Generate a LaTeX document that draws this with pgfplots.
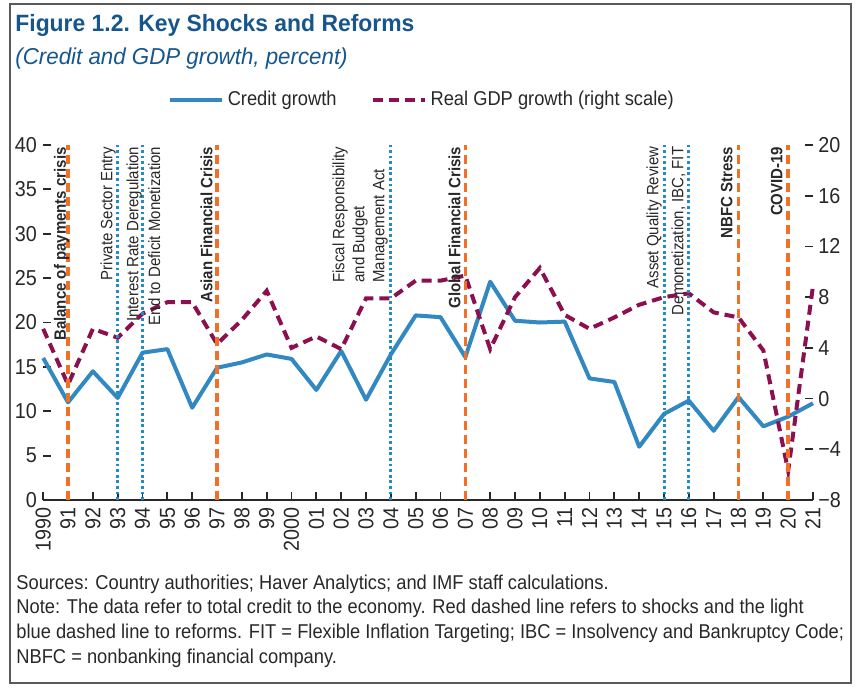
\documentclass[border=0pt]{standalone}
\usepackage{fontspec}
\setmainfont{Liberation Sans}[FakeStretch=0.915]
\newfontfamily\titlefamily{Liberation Sans}[FakeStretch=0.97]
\usepackage{pgfplots}
\pgfplotsset{compat=1.18}
\definecolor{creditblue}{RGB}{50,136,192}
\definecolor{gdpred}{RGB}{140,15,80}
\definecolor{shockorange}{RGB}{240,112,40}
\definecolor{reformblue}{RGB}{35,140,200}
\definecolor{titleblue}{RGB}{22,86,140}
\definecolor{textdark}{RGB}{40,40,40}
\definecolor{framegray}{RGB}{90,90,90}
\newcommand{\bodyfont}{\fontsize{10}{12.4}\selectfont}
\newcommand{\tickfont}{\fontsize{10.8}{12}\selectfont}
\newcommand{\annot}{\fontsize{8.2}{10}\selectfont}
\tikzset{lab/.style={rotate=90, anchor=mid east, inner sep=0pt, text=textdark, font=\annot}}
\begin{document}
\begin{tikzpicture}[x=1pt,y=1pt]
\useasboundingbox (0,0) rectangle (432.5,346);
\draw[framegray, line width=0.8pt] (5,4.5) rectangle (425.5,344);
\node[anchor=base west, inner sep=0pt, text=titleblue, font=\titlefamily\bfseries\fontsize{11.8}{14}\selectfont] at (7.5,330) {Figure 1.2. Key Shocks and Reforms};
\node[anchor=base west, inner sep=0pt, text=titleblue, font=\titlefamily\itshape\fontsize{11.5}{13}\selectfont] at (7.5,313.5) {(Credit and GDP growth, percent)};
\node[anchor=base west, inner sep=0pt, text=textdark, font=\bodyfont] at (8,51.5) {Sources: Country authorities; Haver Analytics; and IMF staff calculations.};
\node[anchor=base west, inner sep=0pt, text=textdark, font=\bodyfont] at (8,39.2) {Note: The data refer to total credit to the economy. Red dashed line refers to shocks and the light};
\node[anchor=base west, inner sep=0pt, text=textdark, font=\bodyfont] at (8,26.8) {blue dashed line to reforms. FIT = Flexible Inflation Targeting; IBC = Insolvency and Bankruptcy Code;};
\node[anchor=base west, inner sep=0pt, text=textdark, font=\bodyfont] at (8,14.4) {NBFC = nonbanking financial company.};

% left axis: credit growth
\begin{axis}[
  at={(21.6pt,96pt)}, anchor=south west,
  scale only axis, width=384.9pt, height=177.5pt,
  xmin=1990, xmax=2021, ymin=0, ymax=40,
  axis x line*=bottom, axis y line*=left,
  axis line style={-, draw=textdark, line width=0.9pt},
  y axis line style={draw=none},
  tick align=inside, major tick length=4pt,
  tick style={draw=textdark, line width=0.9pt},
  xtick={1990,...,2021},
  xticklabels={1990,91,92,93,94,95,96,97,98,99,2000,01,02,03,04,05,06,07,08,09,10,11,12,13,14,15,16,17,18,19,20,21},
  x tick label style={rotate=90, anchor=east, inner sep=0pt, font=\tickfont, text=textdark},
  xticklabel shift=3.5pt,
  ytick={0,5,...,40},
  yticklabels={0,5,10,15,20,25,30,35,40},
  y tick label style={anchor=east, inner sep=0pt, font=\tickfont, text=textdark},
  yticklabel shift=3pt,
  clip=false,
]
\addplot[creditblue, line width=2pt, line join=round] coordinates {
(1990,16.0) (1991,11.0) (1992,14.5) (1993,11.5) (1994,16.6) (1995,17.0)
(1996,10.4) (1997,14.9) (1998,15.5) (1999,16.4) (2000,15.9) (2001,12.4)
(2002,16.8) (2003,11.3) (2004,16.4) (2005,20.8) (2006,20.6) (2007,16.1)
(2008,24.6) (2009,20.2) (2010,20.0) (2011,20.1) (2012,13.7) (2013,13.3)
(2014,6.0) (2015,9.7) (2016,11.2) (2017,7.8) (2018,11.6) (2019,8.3)
(2020,9.4) (2021,10.9)};
\end{axis}

% right axis: real GDP growth, events
\begin{axis}[
  at={(21.6pt,96pt)}, anchor=south west,
  scale only axis, width=384.9pt, height=177.5pt,
  xmin=1990, xmax=2021, ymin=-8, ymax=20,
  axis x line=none, axis y line*=right,
  axis line style={-},
  y axis line style={draw=none},
  tick align=inside, major tick length=4pt,
  tick style={draw=textdark, line width=0.9pt},
  ytick={-8,-4,...,20},
  yticklabels={−8,−4,0,4,8,12,16,20},
  y tick label style={anchor=west, inner sep=0pt, font=\tickfont, text=textdark},
  yticklabel shift=2.5pt,
  legend columns=2,
  legend style={at={(0.493,1.127)}, anchor=center, draw=none, fill=none,
    font=\bodyfont, text=textdark, inner sep=0pt,
    /tikz/every even column/.append style={column sep=15pt}},
  legend image code/.code={\draw[#1] (0pt,0pt) -- (26pt,0pt);},
  clip=false,
]
\addlegendimage{creditblue, line width=2pt}
\addlegendentry{Credit growth}
\addplot[gdpred, line width=2pt, dash pattern=on 5pt off 3pt] coordinates {
(1990,5.5) (1991,1.1) (1992,5.5) (1993,4.8) (1994,6.7) (1995,7.6)
(1996,7.6) (1997,4.3) (1998,6.2) (1999,8.5) (2000,4.0) (2001,4.9)
(2002,3.9) (2003,7.9) (2004,7.9) (2005,9.3) (2006,9.3) (2007,9.7)
(2008,3.9) (2009,8.0) (2010,10.3) (2011,6.6) (2012,5.5) (2013,6.4)
(2014,7.4) (2015,8.0) (2016,8.3) (2017,6.8) (2018,6.4) (2019,3.8)
(2020,-5.7) (2021,8.9)};
\addlegendentry{Real GDP growth (right scale)}
\pgfplotsinvokeforeach{1991,1997,2007,2018,2020}{
  \addplot[shockorange, line width=1.7pt, dash pattern=on 4.5pt off 2.5pt, forget plot] coordinates {(#1,-8) (#1,20)};
}
\pgfplotsinvokeforeach{1993,1994,2004,2015,2016}{
  \addplot[reformblue, line width=1.5pt, dash pattern=on 1.4pt off 1.4pt, forget plot] coordinates {(#1,-8) (#1,20)};
}
\node[lab, font=\annot\bfseries] at (axis cs:1990.70,19.85) {Balance of payments crisis};
\node[lab] at (axis cs:1992.57,19.9) {Private Sector Entry};
\node[lab] at (axis cs:1993.62,19.9) {Interest Rate Deregulation};
\node[lab] at (axis cs:1994.50,19.9) {End to Deficit Monetization};
\node[lab, font=\annot\bfseries] at (axis cs:1996.60,19.9) {Asian Financial Crisis};
\node[lab, anchor=east, align=left] at (axis cs:2002.76,19.9) {Fiscal Responsibility\\and Budget\\Management Act};
\node[lab, font=\annot\bfseries] at (axis cs:2006.59,19.9) {Global Financial Crisis};
\node[lab] at (axis cs:2014.56,19.9) {Asset Quality Review};
\node[lab] at (axis cs:2015.57,19.9) {Demonetization, IBC, FIT};
\node[lab, font=\annot\bfseries] at (axis cs:2017.54,19.9) {NBFC Stress};
\node[lab, font=\annot\bfseries] at (axis cs:2019.55,19.9) {COVID-19};
\end{axis}
\end{tikzpicture}
\end{document}
